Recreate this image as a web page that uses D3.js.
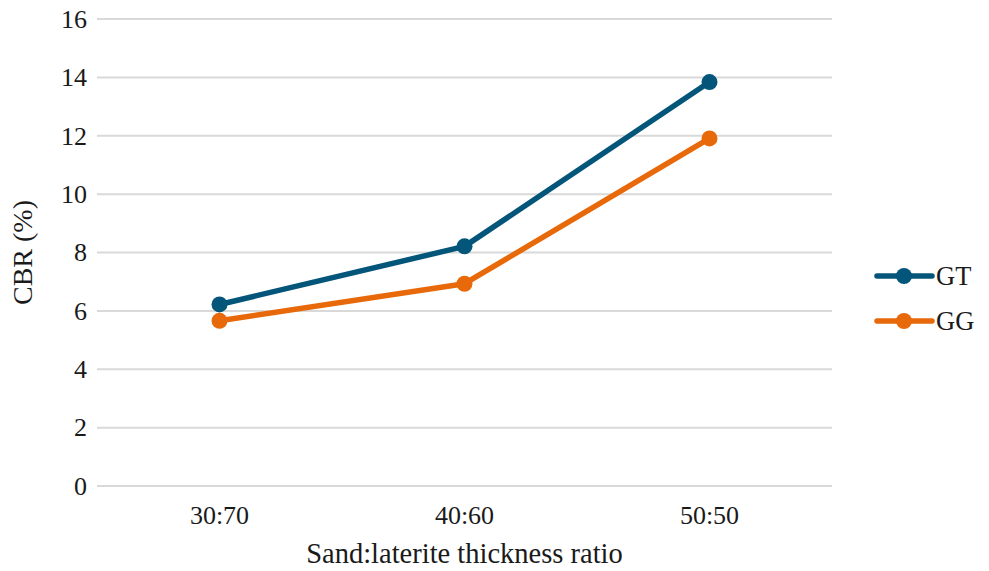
<!DOCTYPE html>
<html>
<head>
<meta charset="utf-8">
<script src="https://cdn.jsdelivr.net/npm/d3@7"></script>
</head>
<body style="margin:0">
<svg id="chart" width="989" height="571" font-family="Liberation Serif"></svg>
<script>
// CBR results for two geosynthetic reinforcements across sand:laterite ratios
const categories = ["30:70", "40:60", "50:50"];
const seriesNames = ["GT", "GG"];
const gtValues = [6.22, 8.21, 13.84];
const ggValues = [5.66, 6.93, 11.91];
const yTicks = [0, 2, 4, 6, 8, 10, 12, 14, 16];
const colors = ["#03557A", "#E8690A"];

const TEXT_COLOR = "#1a1a1a";

const series = [
  { name: seriesNames[0], values: gtValues, color: colors[0] },
  { name: seriesNames[1], values: ggValues, color: colors[1] }
];

const svg = d3.select("#chart");
const margin = { left: 97, right: 157, top: 19, bottom: 85 };
const W = 989, H = 571;

const x = d3.scaleBand()
  .domain(categories)
  .range([margin.left, W - margin.right]);

const y = d3.scaleLinear()
  .domain([0, 16])
  .range([H - margin.bottom, margin.top]);

// horizontal gridlines
svg.append("g")
  .selectAll("line")
  .data(yTicks)
  .join("line")
  .attr("x1", margin.left)
  .attr("x2", W - margin.right)
  .attr("y1", d => y(d))
  .attr("y2", d => y(d))
  .attr("stroke", "#d9d9d9")
  .attr("stroke-width", 2);

// y axis labels
const yAxis = d3.axisLeft(y).tickValues(yTicks).tickSize(0).tickPadding(10);
const gy = svg.append("g")
  .attr("transform", `translate(${margin.left},0)`)
  .call(yAxis)
  .attr("font-family", "Liberation Serif")
  .attr("font-size", 26);
gy.select(".domain").remove();
gy.selectAll("text")
  .attr("font-family", "Liberation Serif")
  .attr("fill", TEXT_COLOR);

// x axis labels
const xAxis = d3.axisBottom(x).tickSize(0).tickPadding(20);
const gx = svg.append("g")
  .attr("transform", `translate(0,${y(0)})`)
  .call(xAxis)
  .attr("font-family", "Liberation Serif")
  .attr("font-size", 26);
gx.select(".domain").remove();
gx.selectAll("text")
  .attr("font-family", "Liberation Serif")
  .attr("fill", TEXT_COLOR);

// axis titles
svg.append("text")
  .attr("x", x.range()[0] + (x.range()[1] - x.range()[0]) / 2)
  .attr("y", 563)
  .attr("text-anchor", "middle")
  .attr("font-family", "Liberation Serif")
  .attr("font-size", 28.5)
  .attr("fill", TEXT_COLOR)
  .text("Sand:laterite thickness ratio");

svg.append("text")
  .attr("transform", `translate(32,${(y(0) + y(16)) / 2}) rotate(-90)`)
  .attr("text-anchor", "middle")
  .attr("font-family", "Liberation Serif")
  .attr("font-size", 28)
  .attr("fill", TEXT_COLOR)
  .text("CBR (%)");

// lines and markers
const line = d3.line()
  .x((d, i) => x(categories[i]) + x.bandwidth() / 2)
  .y(d => y(d));

series.forEach(s => {
  svg.append("path")
    .datum(s.values)
    .attr("d", line)
    .attr("fill", "none")
    .attr("stroke", s.color)
    .attr("stroke-width", 5.5)
    .attr("stroke-linejoin", "round")
    .attr("stroke-linecap", "round");
  svg.append("g")
    .selectAll("circle")
    .data(s.values)
    .join("circle")
    .attr("cx", (d, i) => x(categories[i]) + x.bandwidth() / 2)
    .attr("cy", d => y(d))
    .attr("r", 8)
    .attr("fill", s.color);
});

// legend
const legend = svg.append("g");
const legendY = [276, 321];
series.forEach((s, i) => {
  const g = legend.append("g").attr("transform", `translate(0,${legendY[i]})`);
  g.append("line")
    .attr("x1", 877).attr("x2", 932)
    .attr("y1", 0).attr("y2", 0)
    .attr("stroke", s.color)
    .attr("stroke-width", 5.5)
    .attr("stroke-linecap", "round");
  g.append("circle")
    .attr("cx", 904).attr("cy", 0).attr("r", 8)
    .attr("fill", s.color);
  g.append("text")
    .attr("x", 936).attr("y", 0)
    .attr("dy", "0.35em")
    .attr("font-family", "Liberation Serif")
    .attr("font-size", 26.5)
    .attr("fill", TEXT_COLOR)
    .text(s.name);
});
</script>
</body>
</html>
